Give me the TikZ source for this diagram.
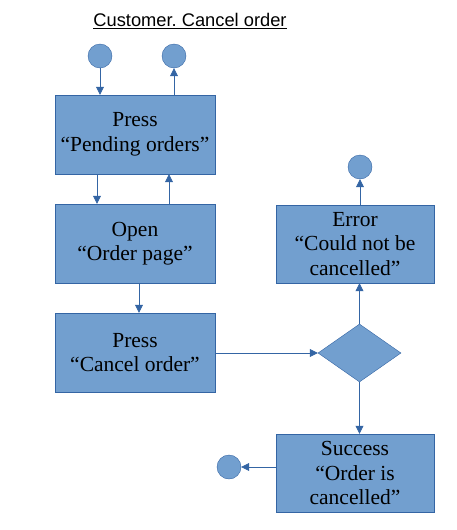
\documentclass[tikz,border=0pt]{standalone}
\usepackage{fontspec}
\setmainfont{Liberation Serif}
\newfontfamily\titlefont{Liberation Sans}
\usetikzlibrary{arrows.meta,shapes.geometric}
\frenchspacing
\definecolor{boxfill}{HTML}{729FCF}
\definecolor{boxline}{HTML}{3465A4}
\tikzset{
  stepbox/.style={rectangle, draw=boxline, fill=boxfill, minimum width=160pt, minimum height=79pt,
    inner sep=0pt, align=center, font=\fontsize{21.5}{24.5}\selectfont},
  endpoint/.style={circle, draw=boxline, fill=boxfill, minimum size=24pt, inner sep=0pt},
  choice/.style={diamond, draw=boxline, fill=boxfill, minimum width=83pt, minimum height=58pt, inner sep=0pt},
  flow/.style={draw=boxline, line width=0.7pt, -{Triangle[length=8pt,width=8pt]}}
}

\begin{document}
\begin{tikzpicture}[x=1pt,y=-1pt]
\useasboundingbox (0,0) rectangle (457,530);

\node (title) at (190,21) {\titlefont\fontsize{18.3}{21}\selectfont\underline{Customer. Cancel order}};

% entry and exit of the dialogue
\node[endpoint] (start) at (100,56) {};
\node[endpoint] (back) at (174,56) {};

\node[stepbox] (pending) at (135,134.5) {Press\\“Pending orders”};
\node[stepbox] (orderpage) at (135,243.5) {Open\\“Order page”};
\node[stepbox] (cancel) at (135,352.5) {Press\\“Cancel order”};

\node[choice] (check) at (359.5,353) {};

\node[stepbox, minimum width=158pt, minimum height=78pt] (error) at (355,244) {Error\\“Could not be\\cancelled”};
\node[stepbox, minimum width=158pt, minimum height=78pt] (success) at (355,473) {Success\\“Order is\\cancelled”};
\node[endpoint] (errend) at (360,167) {};
\node[endpoint] (okend) at (229,467) {};

% connectors
\draw[flow] (start) -- (start |- pending.north);
\draw[flow] (pending.north -| back) -- (back);
\draw[flow] ([xshift=-38pt]pending.south) -- ([xshift=-38pt]orderpage.north);
\draw[flow] ([xshift=34pt]orderpage.north) -- ([xshift=34pt]pending.south);
\draw[flow] ([xshift=4pt]orderpage.south) -- ([xshift=4pt]cancel.north);
\draw[flow] (cancel.east |- check) -- (check.west);
\draw[flow] (check.north) -- (check.north |- error.south);
\draw[flow] (error.north -| errend) -- (errend);
\draw[flow] (check.south) -- (check.south |- success.north);
\draw[flow] (success.west |- okend) -- (okend);
\end{tikzpicture}
\end{document}
